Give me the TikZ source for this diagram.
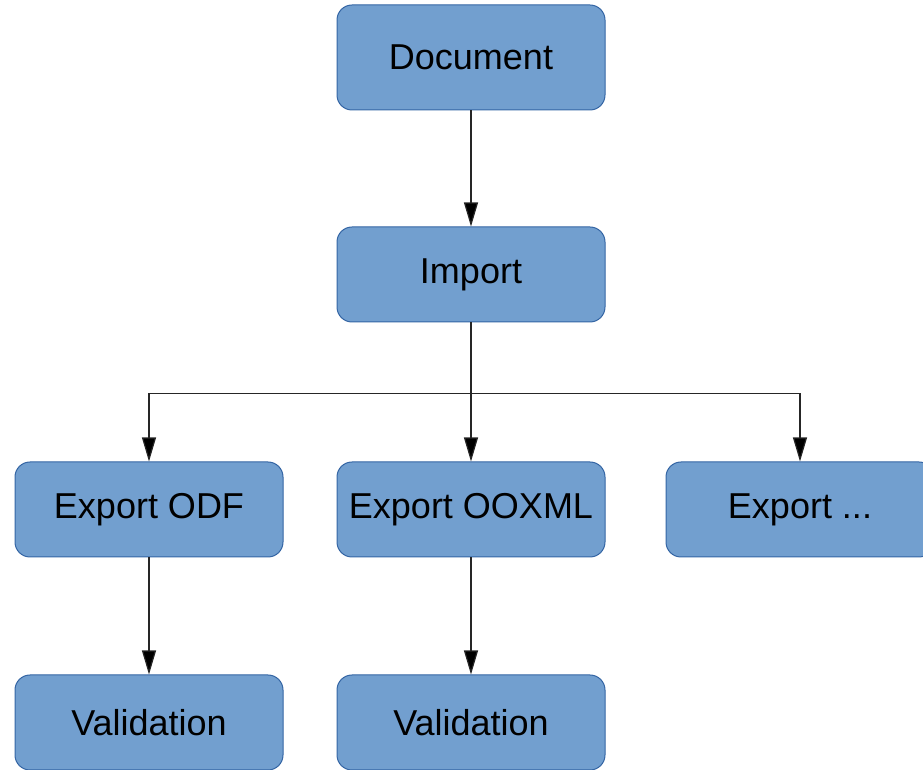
\documentclass[tikz,border=0pt]{standalone}
\usepackage{xcolor}
\usepackage{fontspec}
\setmainfont{Liberation Sans}
\usepackage{tikz}
\usetikzlibrary{positioning, arrows.meta}

\definecolor{boxfill}{HTML}{729FCF}
\definecolor{boxline}{HTML}{3465A4}

\begin{document}
\begin{tikzpicture}[
        level 1/.style = {level distance = 108.5pt,
            edge from parent path = {(\tikzparentnode.south) -- (\tikzchildnode.north)}},
        level 2/.style = {sibling distance = 161pt, level distance = 117.5pt,
            edge from parent path = {(\tikzparentnode.south) -- ++(0,-35.5pt) -| (\tikzchildnode.north)}},
        level 3/.style = {level distance = 106.5pt,
            edge from parent path = {(\tikzparentnode.south) -- (\tikzchildnode.north)}},
        every node/.style = {
            draw = boxline,
            fill = boxfill,
            line width = 0.5pt,
            rectangle,
            rounded corners = 7.5pt,
            align = center,
            minimum width = 134pt,
            minimum height = 47.5pt,
            font = \fontsize{18}{21}\selectfont
        },
        root/.style = {
            minimum height = 52.5pt
        },
        edge from parent/.style = {
            draw = black!85,
            line width = 0.6pt,
            -{Triangle[length = 12pt, width = 7pt, fill = black]}
        }
    ]
        \useasboundingbox (0,0) rectangle (461.5pt,-385pt);
        \node[root] (doc) at (235.5pt,-28.75pt) {Document}
            child {
                node (imp) {Import}
                child {
                    node (odf) {Export ODF}
                    child {
                        node (valodf) {Validation}
                    }
                }
                child {
                    node (ooxml) {Export OOXML}
                    child {
                        node (valooxml) {Validation}
                    }
                }
                child[xshift = 3.5pt] {
                    node (other) {Export ...}
                }
            };
    \end{tikzpicture}
\end{document}
